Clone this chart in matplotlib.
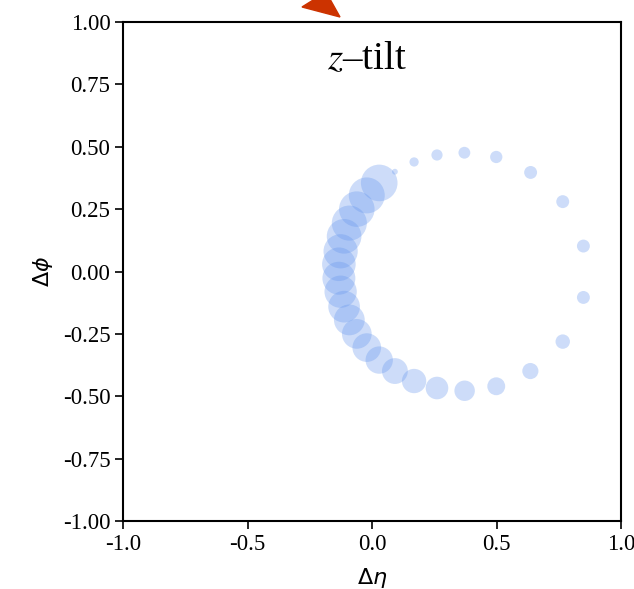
import matplotlib
matplotlib.use("Agg")
import matplotlib.pyplot as plt
from matplotlib.patches import Polygon
import numpy as np

# points, in drawing order (size grows along the ring)
d_eta = [0.092, 0.169, 0.261, 0.371, 0.499, 0.637, 0.766, 0.849,
         0.849, 0.766, 0.636, 0.499, 0.372, 0.261, 0.169, 0.092,
         0.029, -0.021, -0.061, -0.091, -0.112, -0.126, -0.133, -0.133,
         -0.126, -0.112, -0.091, -0.061, -0.021, 0.029]
d_phi = [0.400, 0.439, 0.467, 0.476, 0.459, 0.397, 0.280, 0.102,
         -0.104, -0.281, -0.399, -0.460, -0.478, -0.467, -0.439, -0.399,
         -0.355, -0.305, -0.250, -0.194, -0.141, -0.081, -0.027, 0.029,
         0.081, 0.141, 0.194, 0.250, 0.305, 0.355]
# relative bubble weight (radius in px)
weight = [2.7, 4.3, 5.2, 5.5, 5.7, 6.0, 6.0, 6.0,
          6.0, 6.7, 7.5, 8.3, 9.5, 10.5, 11.3, 12.0,
          12.7, 13.3, 13.8, 14.3, 14.7, 15.0, 15.3, 15.6,
          15.9, 16.1, 16.3, 16.5, 16.7, 17.0]

x_ticks = [-1.0, -0.5, 0.0, 0.5, 1.0]
y_ticks = [-1.0, -0.75, -0.5, -0.25, 0.0, 0.25, 0.5, 0.75, 1.0]

W, H = 634, 589
fig = plt.figure(figsize=(W / 100, H / 100), dpi=100)
ax = fig.add_axes([123 / W, (H - 521) / H, 498 / W, 499 / H])

sizes = (1.55 * np.array(weight)) ** 2
ax.scatter(d_eta, d_phi, s=sizes, color="#6495ED", alpha=0.32, linewidths=0)

ax.set_xlim(-1, 1)
ax.set_ylim(-1, 1)
ax.set_xticks(x_ticks)
ax.set_xticklabels(["%.1f" % v for v in x_ticks])
ax.set_yticks(y_ticks)
ax.set_yticklabels(["%.2f" % v for v in y_ticks])
for lab in ax.get_xticklabels() + ax.get_yticklabels():
    lab.set_family("Liberation Serif")
    lab.set_fontsize(16.5)
ax.tick_params(direction="out", length=6, width=1.2, colors="black", pad=3)
for sp in ax.spines.values():
    sp.set_linewidth(1.5)

ax.set_xlabel(r"$\Delta\eta$", fontsize=16, labelpad=8)
ax.set_ylabel(r"$\Delta\phi$", fontsize=16, labelpad=6)

ax.text(0.49, 0.925, r"$z$–tilt", transform=ax.transAxes, ha="center", va="center",
        fontsize=28, family="Liberation Serif", math_fontfamily="stix")

# red arrow head poking in from above
tri = [(302, 7), (326, -8), (340, 17)]
fig.add_artist(Polygon([(px / W, 1 - py / H) for px, py in tri], closed=True,
                       transform=fig.transFigure, color="#cc3300", clip_on=False))

fig.savefig("out.png", dpi=100)
